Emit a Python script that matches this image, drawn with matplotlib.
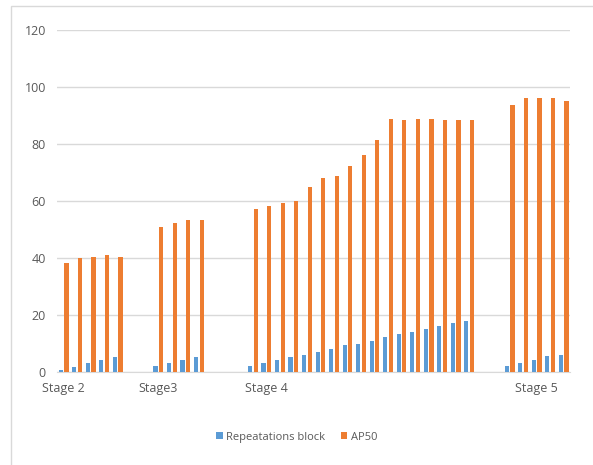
import numpy as np
import matplotlib.pyplot as plt

plt.rcParams['font.family'] = ['Open Sans', 'DejaVu Sans']

# per-stage values (blank categories separate the stages)
stage2_rep = [0.7, 1.8, 3.0, 4.2, 5.3]
stage2_ap = [38.1, 39.9, 40.5, 40.9, 40.5]
stage3_rep = [2.0, 3.0, 4.2, 5.3]
stage3_ap = [51.0, 52.3, 53.3, 53.3]
stage4_rep = [2.0, 3.1, 4.2, 5.4, 6.0, 7.1, 8.2, 9.3, 9.9, 11.0, 12.2,
              13.2, 13.9, 15.0, 16.2, 17.2, 17.8]
stage4_ap = [57.2, 58.4, 59.4, 60.0, 65.0, 67.9, 68.9, 72.3, 76.3, 81.4,
             88.8, 88.3, 88.8, 88.8, 88.3, 88.3, 88.3]
stage5_rep = [2.0, 3.1, 4.3, 5.5, 6.1]
stage5_ap = [93.8, 96.0, 96.0, 96.0, 95.0]

gap2, gap3, gap4 = 2, 3, 2
stage_labels = ['Stage 2', 'Stage3', 'Stage 4', 'Stage 5']
label_at = [0, 7, 15, 35]

nan = [np.nan]
rep = stage2_rep + nan * gap2 + stage3_rep + nan * gap3 + stage4_rep + nan * gap4 + stage5_rep
ap = stage2_ap + nan * gap2 + stage3_ap + nan * gap3 + stage4_ap + nan * gap4 + stage5_ap
x = np.arange(len(rep))

labels = [''] * len(rep)
for i, s in zip(label_at, stage_labels):
    labels[i] = s

fig = plt.figure(figsize=(5.93, 4.65), dpi=100)
ax = fig.add_axes([0.096, 0.2, 0.866, 0.7355])

w = 0.31
ax.bar(x - 0.21, rep, w, color='#5B9BD5', label='Repeatations block', zorder=3)
ax.bar(x + 0.21, ap, w, color='#ED7D31', label='AP50', zorder=3)

ax.set_xlim(-0.5, len(rep) - 0.5)
ax.set_ylim(0, 120)
ax.set_yticks(range(0, 121, 20))
ax.yaxis.grid(True, color='#D9D9D9', linewidth=1, zorder=0)
ax.set_xticks(x)
ax.set_xticklabels(labels)
ax.tick_params(axis='both', length=0, labelsize=9, labelcolor='#595959')
ax.tick_params(axis='y', pad=8)
ax.tick_params(axis='x', pad=7)
for side in ['top', 'right', 'left']:
    ax.spines[side].set_visible(False)
ax.spines['bottom'].set_color('#D9D9D9')

# chart frame, runs off the right and bottom edges
fig.patches.append(plt.Rectangle((11 / 593, -0.1), 1.2, 1 - 6 / 465 + 0.1,
                                 transform=fig.transFigure, fill=False,
                                 edgecolor='#D9D9D9', linewidth=1))

leg = fig.legend(loc='center', bbox_to_anchor=(0.5, 0.06), ncol=2, frameon=False,
                 fontsize=8, handlelength=0.6, handleheight=0.6, handletextpad=0.3,
                 columnspacing=1.4)
for t in leg.get_texts():
    t.set_color('#595959')

fig.savefig('out.png', dpi=100)
